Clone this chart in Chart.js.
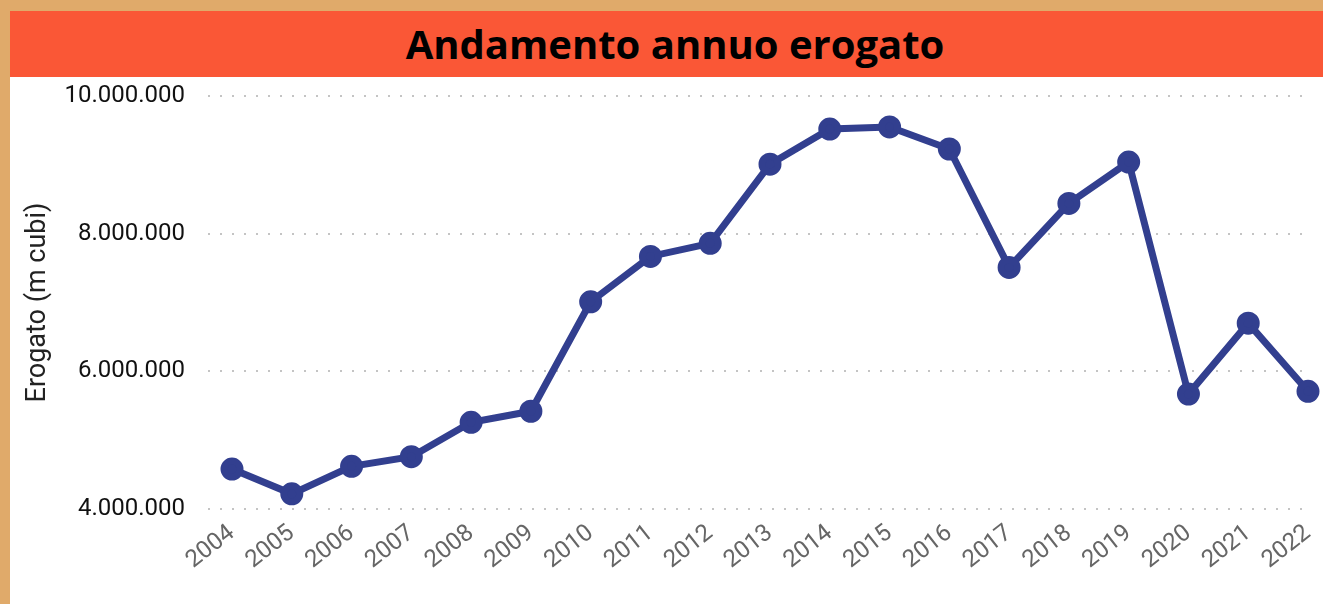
<!DOCTYPE html>
<html>
<head>
<meta charset="utf-8">
<script src="https://cdn.jsdelivr.net/npm/chart.js@4"></script>
<style>
    body { margin: 0; background: #E0AA6A; width: 1323px; height: 604px; overflow: hidden; }
    #pannello { position: absolute; left: 10px; top: 11px; width: 1313px; height: 593px; background: #fff; }
    #titolo { height: 66px; background: #FA5736; color: #000; font-family: "Open Sans", sans-serif; font-weight: 700;
        font-size: 40px; line-height: 66px; text-align: center; padding-left: 17px; }
    #contenitore { position: absolute; left: 0; top: 66px; width: 1313px; height: 527px; }
</style>
</head>
<body>
<div id="pannello">
    <div id="titolo">Andamento annuo erogato</div>
    <div id="contenitore"><canvas id="graficoErogato" width="1313" height="527"></canvas></div>
</div>
<script>
let anni = ["2004", "2005", "2006", "2007", "2008", "2009", "2010", "2011", "2012", "2013",
    "2014", "2015", "2016", "2017", "2018", "2019", "2020", "2021", "2022"]
let erogato = [4580000, 4220000, 4620000, 4760000, 5260000, 5420000, 7010000, 7670000, 7860000, 9010000,
    9520000, 9550000, 9230000, 7510000, 8440000, 9040000, 5670000, 6700000, 5710000]
let tickY = [4000000, 6000000, 8000000, 10000000]

function formatta(v) {
    return v.toString().replace(/\B(?=(\d{3})+(?!\d))/g, ".")
}

const canvas = document.getElementById("graficoErogato")

var grafico = new Chart(canvas, {
    type: 'line',
    data: {
        labels: anni,
        datasets: [{
            label: 'Erogato',
            data: erogato,
            borderColor: '#323F8F',
            backgroundColor: '#323F8F',
            borderWidth: 7,
            pointRadius: 8,
            pointHoverRadius: 8,
            tension: 0,
            clip: false
        }]
    },
    options: {
        responsive: false,
        animation: false,
        devicePixelRatio: 1,
        layout: { padding: { top: 19, right: 15, left: 0, bottom: 0 } },
        plugins: { legend: { display: false }, tooltip: { enabled: false } },
        scales: {
            x: {
                offset: false,
                grid: { display: false },
                border: { display: false },
                ticks: {
                    color: '#666666',
                    font: { family: 'Roboto', size: 24 },
                    minRotation: 38,
                    maxRotation: 38,
                    autoSkip: false,
                    padding: 2
                },
                afterFit: s => {
                    s.height = 95
                    s.paddingLeft = 0
                    s.paddingRight = 0
                }
            },
            y: {
                min: 4000000,
                max: 10000000,
                afterBuildTicks: s => { s.ticks = tickY.map(v => ({ value: v })) },
                grid: {
                    color: '#C4C4C4',
                    lineWidth: 2,
                    tickLength: 24,
                    tickBorderDash: [2, 10],
                    tickColor: '#C4C4C4',
                    tickWidth: 2
                },
                border: { display: false, dash: [2, 10] },
                ticks: {
                    color: '#111111',
                    font: { family: 'Roboto', size: 24 },
                    padding: 23,
                    callback: v => formatta(v)
                },
                title: {
                    display: true,
                    text: 'Erogato (m cubi)',
                    color: '#222222',
                    font: { family: 'Roboto', size: 27 },
                    padding: { top: 12, bottom: 0 }
                },
                afterFit: s => {
                    s.width = 222
                    s.paddingTop = 0
                    s.paddingBottom = 0
                }
            }
        }
    }
})
</script>
</body>
</html>
